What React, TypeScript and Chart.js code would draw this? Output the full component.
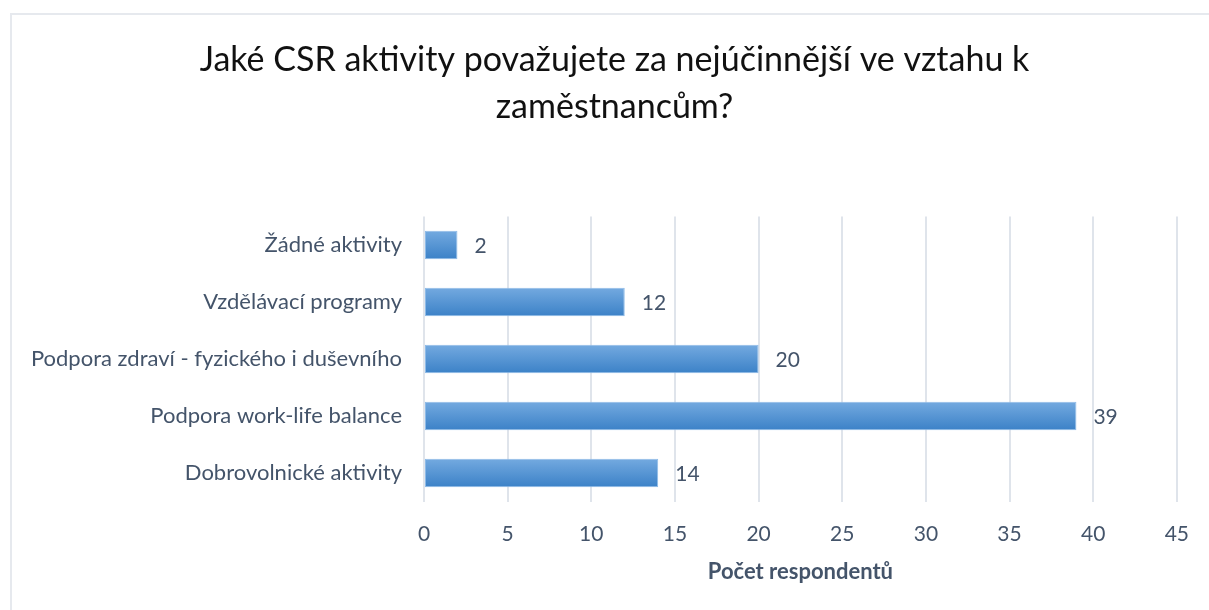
import React, { useEffect, useRef } from "react";
import { Chart, registerables } from "chart.js";

Chart.register(...registerables);

const categories = [
  "Žádné aktivity",
  "Vzdělávací programy",
  "Podpora zdraví - fyzického i duševního",
  "Podpora work-life balance",
  "Dobrovolnické aktivity",
];
const values = [2, 12, 20, 39, 14];
const titleLines = ["Jaké CSR aktivity považujete za nejúčinnější ve vztahu k", "zaměstnancům?"];
const xAxisTitle = "Počet respondentů";
const xMin = 0;
const xMax = 45;
const xStep = 5;

const FONT = "Lato, 'Open Sans', sans-serif";
const TEXT = "#44546a";

const valueLabels = {
  id: "valueLabels",
  afterDatasetsDraw(chart: any) {
    const { ctx } = chart;
    const meta = chart.getDatasetMeta(0);
    ctx.save();
    ctx.font = `21px ${FONT}`;
    ctx.fillStyle = TEXT;
    ctx.textAlign = "left";
    ctx.textBaseline = "middle";
    meta.data.forEach((el: any, i: number) => {
      ctx.fillText(String(values[i]), el.x + 17, el.y + 1);
    });
    ctx.restore();
  },
};

const chartTitle = {
  id: "chartTitle",
  afterDraw(chart: any) {
    const { ctx } = chart;
    ctx.save();
    ctx.font = `34px ${FONT}`;
    ctx.fillStyle = "#111111";
    ctx.textAlign = "center";
    ctx.textBaseline = "middle";
    const cx = chart.width / 2 + 10;
    titleLines.forEach((line, i) => {
      ctx.fillText(line, cx, 60 + i * 47);
    });
    ctx.restore();
  },
};

export default function App() {
  const ref = useRef<HTMLCanvasElement>(null);
  useEffect(() => {
    if (!ref.current) return;
    const chart = new Chart(ref.current, {
      type: "bar",
      data: {
        labels: categories,
        datasets: [
          {
            data: values,
            backgroundColor: (c: any) => {
              const chart = c.chart;
              const { ctx, scales } = chart;
              if (c.type !== "data" || !scales || !scales.y) return "#5b9bd5";
              const y = scales.y.getPixelForValue(c.dataIndex);
              if (!isFinite(y)) return "#5b9bd5";
              const half = 14.5;
              const g = ctx.createLinearGradient(0, y - half, 0, y + half);
              g.addColorStop(0, "#74aae0");
              g.addColorStop(1, "#3b81c7");
              return g;
            },
            borderColor: "#8ebbe8",
            borderWidth: 1,
            borderSkipped: false,
            categoryPercentage: 1,
            barPercentage: 0.5,
          },
        ],
      },
      options: {
        indexAxis: "y",
        responsive: false,
        animation: false,
        layout: { padding: { left: 10, right: 31, top: 216.5, bottom: 0 } },
        plugins: {
          legend: { display: false },
          tooltip: { enabled: false },
          title: { display: false },
        },
        scales: {
          x: {
            min: xMin,
            max: xMax,
            ticks: {
              stepSize: xStep,
              color: TEXT,
              font: { family: FONT, size: 21 },
              padding: 20,
            },
            grid: { color: "#dfe4eb", lineWidth: 2, drawTicks: false },
            border: { display: false },
            title: {
              display: true,
              text: xAxisTitle,
              color: TEXT,
              font: { family: FONT, size: 22, weight: "bold" },
              padding: { top: 0, bottom: 25 },
            },
            afterFit: (s: any) => {
              s.height = 610 - 501.5;
            },
          },
          y: {
            ticks: {
              color: TEXT,
              font: { family: FONT, size: 22 },
              padding: 14,
            },
            grid: { display: false },
            border: { display: false },
            afterFit: (s: any) => {
              s.width = 424 - 10;
            },
          },
        },
      },
      plugins: [valueLabels, chartTitle],
    } as any);
    return () => chart.destroy();
  }, []);
  return (
    <div style={{ position: "fixed", left: 0, top: 0, width: 1209, height: 610, background: "#fff", overflow: "hidden" }}>
      <div
        style={{
          position: "absolute",
          left: 10,
          top: 13,
          width: 1220,
          height: 620,
          borderTop: "2px solid #e6e9ee",
          borderLeft: "2px solid #e6e9ee",
        }}
      />
      <canvas ref={ref} width={1209} height={610} style={{ position: "absolute", left: 0, top: 0, display: "block" }} />
    </div>
  );
}
